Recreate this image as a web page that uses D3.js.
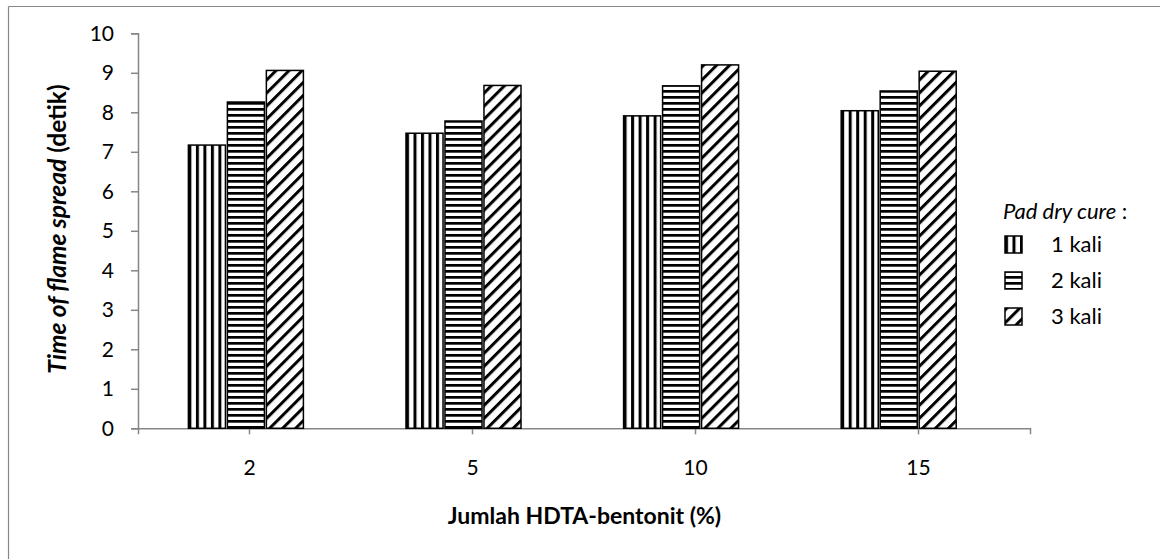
<!DOCTYPE html>
<html>
<head>
<meta charset="utf-8">
<script src="https://cdn.jsdelivr.net/npm/d3@7/dist/d3.min.js"></script>
<style>
  html, body { margin: 0; padding: 0; background: #fff; }
  svg { display: block; }
  text { font-family: Lato, "Open Sans", sans-serif; fill: #000; }
</style>
</head>
<body>
<script>
const categories = ["2", "5", "10", "15"];
const seriesNames = ["1 kali", "2 kali", "3 kali"];
const series1 = [7.17, 7.47, 7.91, 8.04];
const series2 = [8.26, 7.78, 8.67, 8.54];
const series3 = [9.06, 8.68, 9.20, 9.04];
const yTicks = [0, 1, 2, 3, 4, 5, 6, 7, 8, 9, 10];
const xTitle = "Jumlah HDTA-bentonit (%)";
const yTitleItalic = "Time of flame spread";
const yTitleUnit = " (detik)";
const legendTitle = "Pad dry cure";

const W = 1160, H = 559;
const svg = d3.select("body").append("svg").attr("width", W).attr("height", H);
const defs = svg.append("defs");

// patterns
const pV = defs.append("pattern").attr("id", "pat0").attr("patternUnits", "userSpaceOnUse")
  .attr("width", 7.5).attr("height", 10);
pV.append("rect").attr("width", 7.5).attr("height", 10).attr("fill", "#fff");
pV.append("rect").attr("x", 0).attr("width", 3).attr("height", 10).attr("fill", "#000");

const pH = defs.append("pattern").attr("id", "pat1").attr("patternUnits", "userSpaceOnUse")
  .attr("width", 10).attr("height", 6);
pH.append("rect").attr("width", 10).attr("height", 6).attr("fill", "#fff");
pH.append("rect").attr("y", 0).attr("width", 10).attr("height", 2.7).attr("fill", "#000");

const pD = defs.append("pattern").attr("id", "pat2").attr("patternUnits", "userSpaceOnUse")
  .attr("width", 9.2).attr("height", 10).attr("patternTransform", "rotate(45)");
pD.append("rect").attr("width", 9.2).attr("height", 10).attr("fill", "#fff");
pD.append("rect").attr("x", 0).attr("width", 3).attr("height", 10).attr("fill", "#000");

// frame (left and top edges visible)
svg.append("line").attr("x1", 8.5).attr("y1", 6.5).attr("x2", 8.5).attr("y2", H).attr("stroke", "#868686").attr("stroke-width", 1.2);
svg.append("line").attr("x1", 8.5).attr("y1", 6.5).attr("x2", W).attr("y2", 6.5).attr("stroke", "#868686").attr("stroke-width", 1.2);

const plotL = 138, plotR = 1030, plotT = 33.3, plotB = 428.3;

const y = d3.scaleLinear().domain([0, 10]).range([plotB, plotT]);
// category axis scale (labels / ticks)
const x0 = d3.scaleBand().domain(categories).range([plotL, plotR]).paddingInner(0.484).paddingOuter(0.242);
// bar-group scale (groups sit slightly tighter than the labels in the reference)
const xg = d3.scaleBand().domain(categories).range([188.4, 956.2]).paddingInner(0.4715).paddingOuter(0);
const x1 = d3.scaleBand().domain(seriesNames).range([0, xg.bandwidth()]).paddingInner(0.05);

const data = categories.map((c, i) => ({ cat: c, vals: [series1[i], series2[i], series3[i]] }));

// y axis
const yAxis = d3.axisLeft(y).tickValues(yTicks).tickSize(7).tickPadding(17).tickFormat(d3.format("d"));
const gy = svg.append("g").attr("transform", `translate(${plotL},0)`).call(yAxis);
gy.select(".domain").attr("stroke", "#868686").attr("stroke-width", 1.5);
gy.selectAll(".tick line").attr("stroke", "#868686").attr("stroke-width", 1.5);
gy.selectAll(".tick text").style("font-size", "21px").style("font-family", "Lato, sans-serif");

// x axis
const xAxis = d3.axisBottom(x0).tickSize(6).tickSizeOuter(6).tickPadding(26);
const gx = svg.append("g").attr("transform", `translate(0,${plotB})`).call(xAxis);
gx.select(".domain").attr("stroke", "#868686").attr("stroke-width", 1.5);
gx.selectAll(".tick line").attr("stroke", "#868686").attr("stroke-width", 1.5);
gx.selectAll(".tick text").style("font-size", "21px").style("font-family", "Lato, sans-serif");

// bars
const groups = svg.append("g").selectAll("g").data(data).join("g")
  .attr("transform", d => `translate(${xg(d.cat)},0)`);
groups.selectAll("rect").data(d => d.vals.map((v, j) => ({ s: seriesNames[j], j, v })))
  .join("rect")
  .attr("x", d => x1(d.s))
  .attr("y", d => y(d.v))
  .attr("width", x1.bandwidth())
  .attr("height", d => y(0) - y(d.v))
  .attr("fill", d => `url(#pat${d.j})`)
  .attr("stroke", "#000")
  .attr("stroke-width", 1.5);

// axis titles
svg.append("text")
  .attr("x", 584.5)
  .attr("y", 524)
  .attr("text-anchor", "middle")
  .style("font-size", "23px").style("font-weight", "bold")
  .text(xTitle);

const yt = svg.append("text")
  .attr("transform", `translate(66,229) rotate(-90)`)
  .attr("text-anchor", "middle")
  .style("font-size", "24.5px").style("font-weight", "bold");
yt.append("tspan").style("font-style", "italic").text(yTitleItalic);
yt.append("tspan").text(yTitleUnit);

// legend
const lg = svg.append("g");
const lt = lg.append("text").attr("x", 1003).attr("y", 219).style("font-size", "22px");
lt.append("tspan").style("font-style", "italic").text(legendTitle);
lt.append("tspan").text(" :");
const items = lg.selectAll("g.item").data(seriesNames).join("g").attr("class", "item")
  .attr("transform", (d, i) => `translate(0,${252 + i * 36})`);
items.append("rect").attr("x", 1005).attr("y", -16).attr("width", 17).attr("height", 17)
  .attr("fill", (d, i) => `url(#pat${i})`).attr("stroke", "#000").attr("stroke-width", 1.5);
items.append("text").attr("x", 1051).attr("y", 0).style("font-size", "22px").text(d => d);
</script>
</body>
</html>
